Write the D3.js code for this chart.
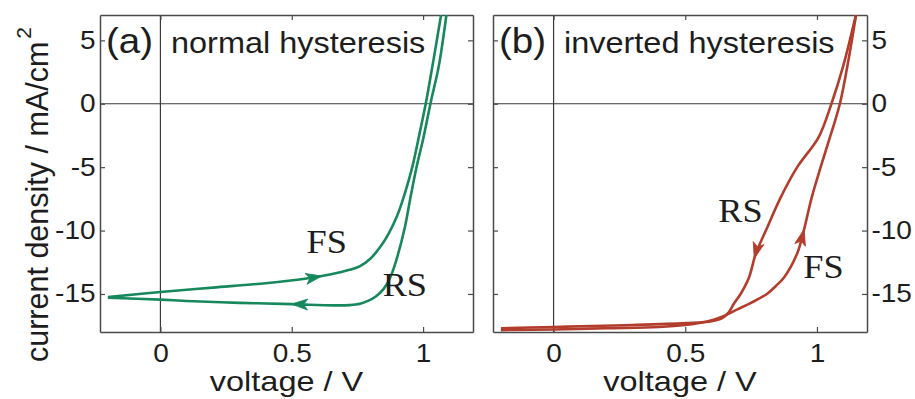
<!DOCTYPE html>
<html>
<head>
<meta charset="utf-8">
<script src="https://cdn.jsdelivr.net/npm/d3@7"></script>
<style>
  body { margin: 0; background: #fff; }
</style>
</head>
<body>
<div id="chart"></div>
<script>
// axis setup
const xTicks = [0, 0.5, 1];
const yTicks = [-15, -10, -5, 0, 5];
const xDomain = [-0.23, 1.19];
const yDomain = [-18, 7];

// (a) normal hysteresis - forward scan (low V -> high V)
const normalFsV = [-0.20, 0.00, 0.20, 0.40, 0.55, 0.65, 0.72, 0.76, 0.80, 0.84, 0.87, 0.90, 0.93, 0.96, 0.99, 1.01, 1.04, 1.07];
const normalFsJ = [-15.25, -14.85, -14.5, -14.15, -13.8, -13.45, -13.1, -12.8, -12.2, -11.2, -10.2, -8.9, -7.1, -4.9, -2.0, 0.0, 3.5, 7.2];
// (a) normal hysteresis - reverse scan (high V -> low V)
const normalRsV = [1.09, 1.06, 1.03, 1.00, 0.975, 0.95, 0.93, 0.90, 0.875, 0.85, 0.82, 0.79, 0.76, 0.72, 0.66, 0.50, 0.30, 0.10, 0.00, -0.20];
const normalRsJ = [7.2, 3.0, 0.2, -2.8, -5.0, -7.6, -9.8, -12.2, -13.7, -14.6, -15.2, -15.55, -15.78, -15.88, -15.9, -15.8, -15.7, -15.55, -15.45, -15.3];

// (b) inverted hysteresis - forward scan
const invertedFsV = [-0.20, 0.00, 0.20, 0.40, 0.50, 0.58, 0.64, 0.70, 0.75, 0.81, 0.845, 0.875, 0.925, 0.95, 0.98, 1.014, 1.05, 1.087, 1.12, 1.15];
const invertedFsJ = [-17.85, -17.8, -17.7, -17.6, -17.45, -17.2, -16.8, -16.2, -15.7, -15.0, -14.35, -13.7, -11.8, -10.0, -7.4, -5.0, -2.6, 0.0, 3.5, 7.2];
// (b) inverted hysteresis - reverse scan
const invertedRsV = [1.15, 1.10, 1.055, 1.006, 0.925, 0.862, 0.806, 0.768, 0.742, 0.71, 0.685, 0.665, 0.64, 0.60, 0.50, 0.30, 0.10, 0.00, -0.20];
const invertedRsJ = [7.2, 3.0, 0.0, -2.65, -5.0, -7.4, -10.0, -11.8, -13.7, -15.0, -15.75, -16.45, -16.9, -17.15, -17.3, -17.45, -17.55, -17.6, -17.7];

// arrow tips and scan labels, in data units
const normalArrows = [{scan: "FS", v: 0.615, j: -13.55}, {scan: "RS", v: 0.50, j: -15.8}];
const invertedArrows = [{scan: "RS", v: 0.76, j: -12.2}, {scan: "FS", v: 0.95, j: -9.9}];
const normalLabels = [{text: "FS", v: 0.556, j: -11.8}, {text: "RS", v: 0.846, j: -15.2}];
const invertedLabels = [{text: "RS", v: 0.625, j: -9.3}, {text: "FS", v: 0.948, j: -13.76}];

const width = 915, height = 399;
const plotTop = 15, plotBottom = 332;
const sans = "'Liberation Sans', Arial, Helvetica, sans-serif";
const serif = "'Liberation Serif', 'Times New Roman', serif";
const ink = "#1d1d1d";

const svg = d3.select("#chart")
    .append("svg")
    .attr("width", width)
    .attr("height", height);

function zipPts(vs, js) {
    return vs.map((v, i) => ({v: v, j: js[i]}));
}

// text with slight horizontal stretch like the original figure
function addText(g, str, x, y, size, sx, family) {
    return g.append("text")
        .attr("transform", `translate(${x},${y}) scale(${sx},1)`)
        .attr("font-family", family || sans)
        .attr("font-size", size)
        .attr("fill", ink)
        .text(str);
}

const panels = [
    {key: "a", left: 100, right: 473, tag: "(a)", title: "normal hysteresis", color: "#17885c",
        fs: zipPts(normalFsV, normalFsJ), rs: zipPts(normalRsV, normalRsJ),
        arrows: normalArrows, labels: normalLabels, yRight: false},
    {key: "b", left: 493, right: 867, tag: "(b)", title: "inverted hysteresis", color: "#b33d2d",
        fs: zipPts(invertedFsV, invertedFsJ), rs: zipPts(invertedRsV, invertedRsJ),
        arrows: invertedArrows, labels: invertedLabels, yRight: true}
];

panels.forEach(p => {
    const x = d3.scaleLinear().domain(xDomain).range([p.left, p.right]);
    const y = d3.scaleLinear().domain(yDomain).range([plotBottom, plotTop]);
    const g = svg.append("g");

    g.append("clipPath").attr("id", "clip-" + p.key)
        .append("rect")
        .attr("x", p.left).attr("y", plotTop)
        .attr("width", p.right - p.left).attr("height", plotBottom - plotTop);

    // zero lines
    g.append("line")
        .attr("x1", p.left).attr("x2", p.right)
        .attr("y1", y(0)).attr("y2", y(0))
        .attr("stroke", "#3a3a3a").attr("stroke-width", 1.2);
    g.append("line")
        .attr("x1", x(0)).attr("x2", x(0))
        .attr("y1", plotTop).attr("y2", plotBottom)
        .attr("stroke", "#3a3a3a").attr("stroke-width", 1.2);

    // frame + inward ticks
    const fmt = d => String(d);
    const axB = g.append("g").attr("transform", `translate(0,${plotBottom})`)
        .call(d3.axisBottom(x).tickValues(xTicks).tickSize(-5).tickSizeOuter(0).tickPadding(12).tickFormat(fmt));
    const axT = g.append("g").attr("transform", `translate(0,${plotTop})`)
        .call(d3.axisTop(x).tickValues(xTicks).tickSize(-5).tickSizeOuter(0).tickFormat(""));
    const axL = g.append("g").attr("transform", `translate(${p.left},0)`)
        .call(d3.axisLeft(y).tickValues(yTicks).tickSize(-5).tickSizeOuter(0).tickPadding(4)
            .tickFormat(p.yRight ? "" : fmt));
    const axR = g.append("g").attr("transform", `translate(${p.right},0)`)
        .call(d3.axisRight(y).tickValues(yTicks).tickSize(-5).tickSizeOuter(0).tickPadding(4)
            .tickFormat(p.yRight ? fmt : ""));

    [axB, axT, axL, axR].forEach(ax => {
        ax.selectAll(".domain").attr("stroke", "#4a4a4a").attr("stroke-width", 1.5);
        ax.selectAll(".tick line").attr("stroke", "#4a4a4a").attr("stroke-width", 1.2);
        ax.selectAll(".tick text")
            .attr("font-family", sans)
            .attr("font-size", 25)
            .attr("fill", ink)
            .attr("transform", "scale(1.12,1)");
    });

    // curves
    const line = d3.line()
        .x(d => x(d.v))
        .y(d => y(d.j))
        .curve(d3.curveCatmullRom.alpha(0.5));

    const curves = g.append("g").attr("clip-path", `url(#clip-${p.key})`);
    const paths = {};
    [["FS", p.fs], ["RS", p.rs]].forEach(([name, pts]) => {
        paths[name] = curves.append("path")
            .datum(pts)
            .attr("d", line)
            .attr("fill", "none")
            .attr("stroke", p.color)
            .attr("stroke-width", 2.6)
            .attr("stroke-linejoin", "round");
    });

    // arrowheads, oriented along the scan direction of the path
    p.arrows.forEach(a => {
        const node = paths[a.scan].node();
        const total = node.getTotalLength();
        const tx = x(a.v), ty = y(a.j);
        let best = 0, bestD = Infinity;
        for (let L = 0; L <= total; L += 0.5) {
            const pt = node.getPointAtLength(L);
            const dd = (pt.x - tx) ** 2 + (pt.y - ty) ** 2;
            if (dd < bestD) { bestD = dd; best = L; }
        }
        const p0 = node.getPointAtLength(Math.max(0, best - 3));
        const p1 = node.getPointAtLength(Math.min(total, best + 3));
        const tip = node.getPointAtLength(best);
        const ang = Math.atan2(p1.y - p0.y, p1.x - p0.x) * 180 / Math.PI;
        g.append("path")
            .attr("d", "M0,0L-16,-5.5L-12,0L-16,5.5Z")
            .attr("transform", `translate(${tip.x},${tip.y}) rotate(${ang})`)
            .attr("fill", p.color)
            .attr("stroke", p.color)
            .attr("stroke-width", 0.8)
            .attr("stroke-linejoin", "round");
    });

    // scan labels
    p.labels.forEach(l => {
        addText(g, l.text, x(l.v), y(l.j), 33, 1.1, serif);
    });

    // panel titles
    addText(g, p.tag, p.left + 6, 53, 35, 1.1);
    addText(g, p.title, p.left + 71, 53, 29, 1.12);

    // x axis title
    addText(g, "voltage / V", (p.left + p.right) / 2, 391, 28, 1.16)
        .attr("text-anchor", "middle");
});

// y axis title
const yTitle = svg.append("text")
    .attr("transform", "translate(48,362) rotate(-90)")
    .attr("font-family", sans)
    .attr("font-size", 30.5)
    .attr("fill", ink);
yTitle.append("tspan").text("current density / mA/cm");
yTitle.append("tspan").attr("font-size", 21).attr("dx", 3).attr("dy", -17).text("2");
</script>
</body>
</html>
